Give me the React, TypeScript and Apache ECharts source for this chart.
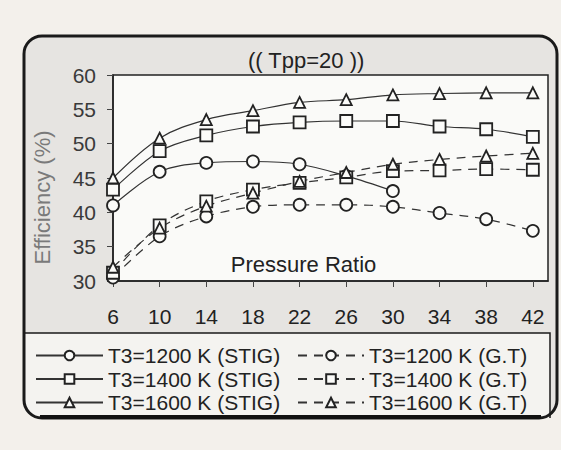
import React, { useEffect, useRef } from "react";
import * as echarts from "echarts";

const pressureRatios = [6, 10, 14, 18, 22, 26, 30, 34, 38, 42];
const xTickValues = [6, 10, 14, 18, 22, 26, 30, 34, 38, 42];

const stig1200 = [41.0, 45.9, 47.2, 47.4, 47.0, 45.3, 43.1];
const stig1400 = [43.3, 48.9, 51.2, 52.5, 53.1, 53.3, 53.3, 52.5, 52.1, 51.0];
const stig1600 = [45.0, 50.8, 53.5, 54.8, 56.0, 56.4, 57.1, 57.3, 57.4, 57.4];

const gt1200 = [30.5, 36.5, 39.4, 40.8, 41.1, 41.1, 40.8, 39.9, 39.0, 37.3];
const gt1400 = [31.2, 38.1, 41.6, 43.3, 44.3, 45.1, 46.0, 46.1, 46.3, 46.2];
const gt1600 = [32.0, 37.7, 40.9, 42.8, 44.5, 45.8, 47.0, 47.7, 48.2, 48.6];

const stigNames = ["T3=1200 K (STIG)", "T3=1400 K (STIG)", "T3=1600 K (STIG)"];
const gtNames = ["T3=1200 K (G.T)", "T3=1400 K (G.T)", "T3=1600 K (G.T)"];

const FONT = "'Liberation Sans', Arial, sans-serif";
const INK = "#222";

function pairs(vals: number[]) {
  return vals.map((v, i) => [pressureRatios[i], v]);
}

function makeSeries(name: string, vals: number[], symbol: string, size: number, dashed: boolean) {
  return {
    name,
    type: "line",
    data: pairs(vals),
    smooth: 0.35,
    symbol,
    symbolSize: size,
    showSymbol: true,
    lineStyle: { color: "#333", width: 1.2, type: dashed ? [9, 7] : "solid" },
    itemStyle: { color: "#fbfbf9", borderColor: INK, borderWidth: 1.8 },
    emphasis: { disabled: true },
    z: 3,
  };
}

export default function App() {
  const ref = useRef<HTMLDivElement>(null);
  useEffect(() => {
    if (!ref.current) return;
    const chart = echarts.init(ref.current, null, { renderer: "svg" });
    const option = {
      animation: false,
      backgroundColor: "#f3f0eb",
      textStyle: { fontFamily: FONT },
      title: {
        text: "(( Tpp=20 ))",
        left: 248,
        top: 49,
        padding: 0,
        textStyle: { fontFamily: FONT, fontSize: 22, fontWeight: "normal", color: INK },
      },
      graphic: [
        {
          type: "rect",
          z: -10,
          silent: true,
          shape: { x: 24, y: 36, width: 533, height: 382, r: 18 },
          style: { fill: "#e6e4e1" },
        },
        {
          type: "rect",
          z: -9,
          silent: true,
          shape: { x: 24, y: 333, width: 526, height: 85, r: [0, 0, 0, 18] },
          style: { fill: "#f4f3f0" },
        },
        {
          type: "polyline",
          z: 50,
          silent: true,
          shape: { points: [[24, 333], [550, 333], [550, 418]] },
          style: { fill: "none", stroke: "#1a1a1a", lineWidth: 1.5 },
        },
        {
          type: "rect",
          z: 50,
          silent: true,
          shape: { x: 24, y: 36, width: 533, height: 382, r: 18 },
          style: { fill: "none", stroke: "#1a1a1a", lineWidth: 3 },
        },
        {
          type: "line",
          z: 50,
          silent: true,
          shape: { x1: 40, y1: 417, x2: 541, y2: 417 },
          style: { stroke: "#111", lineWidth: 4 },
        },
      ],
      legend: [
        {
          orient: "vertical",
          left: 35,
          top: 345,
          padding: 0,
          itemWidth: 67,
          itemHeight: 12,
          itemGap: 2.5,
          data: stigNames,
          textStyle: { fontFamily: FONT, fontSize: 21, color: INK },
        },
        {
          orient: "vertical",
          left: 297,
          top: 345,
          padding: 0,
          itemWidth: 66,
          itemHeight: 12,
          itemGap: 2.5,
          data: gtNames,
          textStyle: { fontFamily: FONT, fontSize: 21, color: INK },
        },
      ],
      grid: {
        left: 113,
        right: 13,
        top: 75,
        bottom: 169,
        show: true,
        backgroundColor: "#fafaf8",
        borderColor: "#222",
        borderWidth: 1.5,
      },
      xAxis: {
        type: "value",
        min: 6,
        max: 43.3,
        name: "Pressure Ratio",
        nameLocation: "middle",
        nameGap: -17,
        nameTextStyle: {
          fontFamily: FONT,
          fontSize: 22,
          color: INK,
          verticalAlign: "middle",
          align: "center",
          padding: [0, 54, 0, 0],
        },
        axisLine: { show: true, lineStyle: { color: "#222", width: 1.5 } },
        axisTick: {
          show: true,
          inside: false,
          length: 6,
          customValues: xTickValues,
          lineStyle: { color: "#444" },
        },
        axisLabel: {
          customValues: xTickValues,
          margin: 25,
          fontFamily: FONT,
          fontSize: 21,
          color: INK,
        },
        splitLine: { show: false },
      },
      yAxis: {
        type: "value",
        min: 30,
        max: 60,
        interval: 5,
        name: "Efficiency (%)",
        nameLocation: "middle",
        nameGap: 71,
        nameTextStyle: {
          fontFamily: FONT,
          fontSize: 22,
          color: "#7a7a7a",
          verticalAlign: "middle",
          align: "center",
          padding: [0, 39, 0, 0],
        },
        axisLine: { show: true, lineStyle: { color: "#222", width: 1.5 } },
        axisTick: { show: true, inside: false, length: 6, lineStyle: { color: "#444" } },
        axisLabel: { margin: 17, fontFamily: FONT, fontSize: 21, color: "#3a3a3a" },
        splitLine: { show: false },
      },
      series: [
        makeSeries(stigNames[0], stig1200, "circle", 12, false),
        makeSeries(stigNames[1], stig1400, "rect", 12, false),
        makeSeries(stigNames[2], stig1600, "triangle", 11, false),
        makeSeries(gtNames[0], gt1200, "circle", 12, true),
        makeSeries(gtNames[1], gt1400, "rect", 12, true),
        makeSeries(gtNames[2], gt1600, "triangle", 11, true),
      ],
    };
    chart.setOption(option as any);
    return () => chart.dispose();
  }, []);
  return (
    <div
      ref={ref}
      style={{ position: "fixed", left: 0, top: 0, width: 561, height: 450 }}
    />
  );
}
